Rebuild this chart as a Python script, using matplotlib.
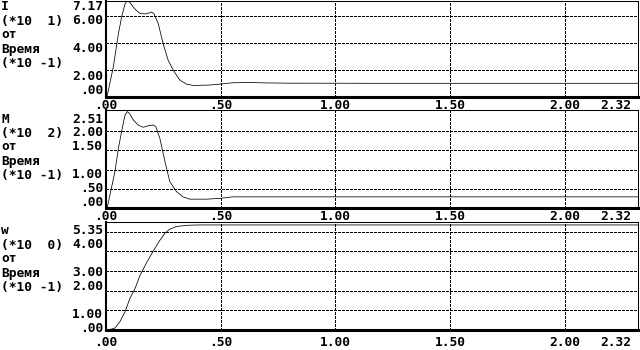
import matplotlib.pyplot as plt

# --- data (time axis in units of 0.1) ---
t_I = [0.0, 0.006, 0.032, 0.054, 0.068, 0.083, 0.093, 0.104, 0.119, 0.133, 0.151,
       0.177, 0.199, 0.209, 0.228, 0.249, 0.271, 0.293, 0.322, 0.351, 0.38, 0.452,
       0.496, 0.553, 0.62, 0.70, 0.80, 1.2, 1.8, 2.32]
I_vals = [0.0, 0.15, 2.25, 4.7, 5.95, 6.94, 7.17, 7.05, 6.7, 6.44, 6.2,
          6.2, 6.33, 6.2, 5.46, 3.98, 2.74, 2.0, 1.26, 0.96, 0.86, 0.89,
          0.96, 1.06, 1.08, 1.05, 1.03, 1.02, 1.02, 1.02]

t_M = [0.0, 0.006, 0.039, 0.054, 0.068, 0.083, 0.093, 0.104, 0.119, 0.14, 0.162,
       0.184, 0.206, 0.217, 0.235, 0.257, 0.278, 0.307, 0.336, 0.365, 0.438, 0.496,
       0.553, 0.65, 0.8, 1.2, 1.8, 2.32]
M_vals = [0.0, 0.03, 0.95, 1.55, 1.99, 2.42, 2.51, 2.45, 2.29, 2.16, 2.10,
          2.14, 2.16, 2.12, 1.81, 1.21, 0.69, 0.43, 0.29, 0.23, 0.23, 0.25,
          0.29, 0.29, 0.29, 0.29, 0.29, 0.29]

t_w = [0.0, 0.025, 0.039, 0.061, 0.083, 0.104, 0.126, 0.148, 0.177, 0.206, 0.235,
       0.257, 0.278, 0.307, 0.351, 0.40, 0.8, 1.5, 2.32]
w_vals = [0.0, 0.05, 0.1, 0.43, 0.93, 1.6, 2.1, 2.77, 3.43, 4.02, 4.57,
          4.93, 5.13, 5.27, 5.33, 5.35, 5.35, 5.35, 5.35]

names = ['I', 'M', 'w']
scales = ['(*10  1)', '(*10  2)', '(*10  0)']
time_label = ['от', 'Время', '(*10 -1)']

ylabels_I = ['7.17', '6.00', '4.00', '2.00', '.00']
ylabels_M = ['2.51', '2.00', '1.50', '1.00', '.50', '.00']
ylabels_w = ['5.35', '4.00', '3.00', '2.00', '1.00', '.00']
ygrid_I = [2, 4, 6]
ygrid_M = [0.5, 1.0, 1.5, 2.0]
ygrid_w = [1, 2, 3, 4, 5]

xticks = [0.0, 0.5, 1.0, 1.5, 2.0, 2.32]
xlabels = ['.00', '.50', '1.00', '1.50', '2.00', '2.32']

# --- layout (pixels on a 640x350 screen, 14px text rows) ---
W, H = 640, 350
ROW = 14
panels = [
    # top px, bottom px, first text row, ylim top, rows of y labels, x label row
    dict(top=0.5, bot=97, row0=0, ymax=7.19, yrows=[0, 1, 3, 5, 6], xrow=7),
    dict(top=110, bot=208, row0=8, ymax=2.55, yrows=[0, 1, 2, 4, 5, 6], xrow=15),
    dict(top=222, bot=330, row0=16, ymax=5.5, yrows=[0, 1, 3, 4, 6, 7], xrow=24),
]
series = [(t_I, I_vals, ylabels_I, ygrid_I),
          (t_M, M_vals, ylabels_M, ygrid_M),
          (t_w, w_vals, ylabels_w, ygrid_w)]

plt.rcParams['font.family'] = ['DejaVu Sans Mono']
plt.rcParams['font.weight'] = 'bold'
FS = 9.3
DOTS = (0, (2.5, 1.5))

fig = plt.figure(figsize=(6.4, 3.5), dpi=100)
fig.patch.set_facecolor('white')
x0, x1 = 106, 638


def row_y(r):
    return 1 - (r * ROW + 7) / H


for i, (p, (t, v, ylabs, ygrid)) in enumerate(zip(panels, series)):
    ax = fig.add_axes([x0 / W, 1 - p['bot'] / H, (x1 - x0) / W, (p['bot'] - p['top']) / H])
    ax.set_xlim(0, 2.32)
    ax.set_ylim(0, p['ymax'])
    ax.plot(t, v, color='black', lw=0.55, antialiased=True, zorder=3)
    for g in ygrid:
        ax.axhline(g, color='black', lw=0.72, ls=DOTS, antialiased=False, zorder=1)
    for g in xticks[1:-1]:
        ax.axvline(g, color='black', lw=0.72, ls=DOTS, antialiased=False, zorder=1)
    ax.set_xticks([])
    ax.set_yticks([])
    ax.spines['left'].set_linewidth(1.5)
    ax.spines['bottom'].set_linewidth(2.2)
    ax.spines['top'].set_linewidth(0.75)
    ax.spines['right'].set_linewidth(0.75)

    # left side caption
    caption = [names[i], scales[i]] + time_label
    for k, s in enumerate(caption):
        fig.text(1 / W, row_y(p['row0'] + k), s, ha='left', va='center', fontsize=FS)
    # y labels sit on the text grid
    for s, r in zip(ylabs, p['yrows']):
        fig.text(103 / W, row_y(p['row0'] + r), s, ha='right', va='center', fontsize=FS)
    # x labels
    for k, (xv, s) in enumerate(zip(xticks, xlabels)):
        xp = x0 + (x1 - x0) * xv / 2.32
        if k == len(xticks) - 1:
            fig.text(631 / W, row_y(p['xrow']), s, ha='right', va='center', fontsize=FS)
        else:
            fig.text(xp / W, row_y(p['xrow']), s, ha='center', va='center', fontsize=FS)

fig.savefig('out.png', dpi=100, facecolor='white')
